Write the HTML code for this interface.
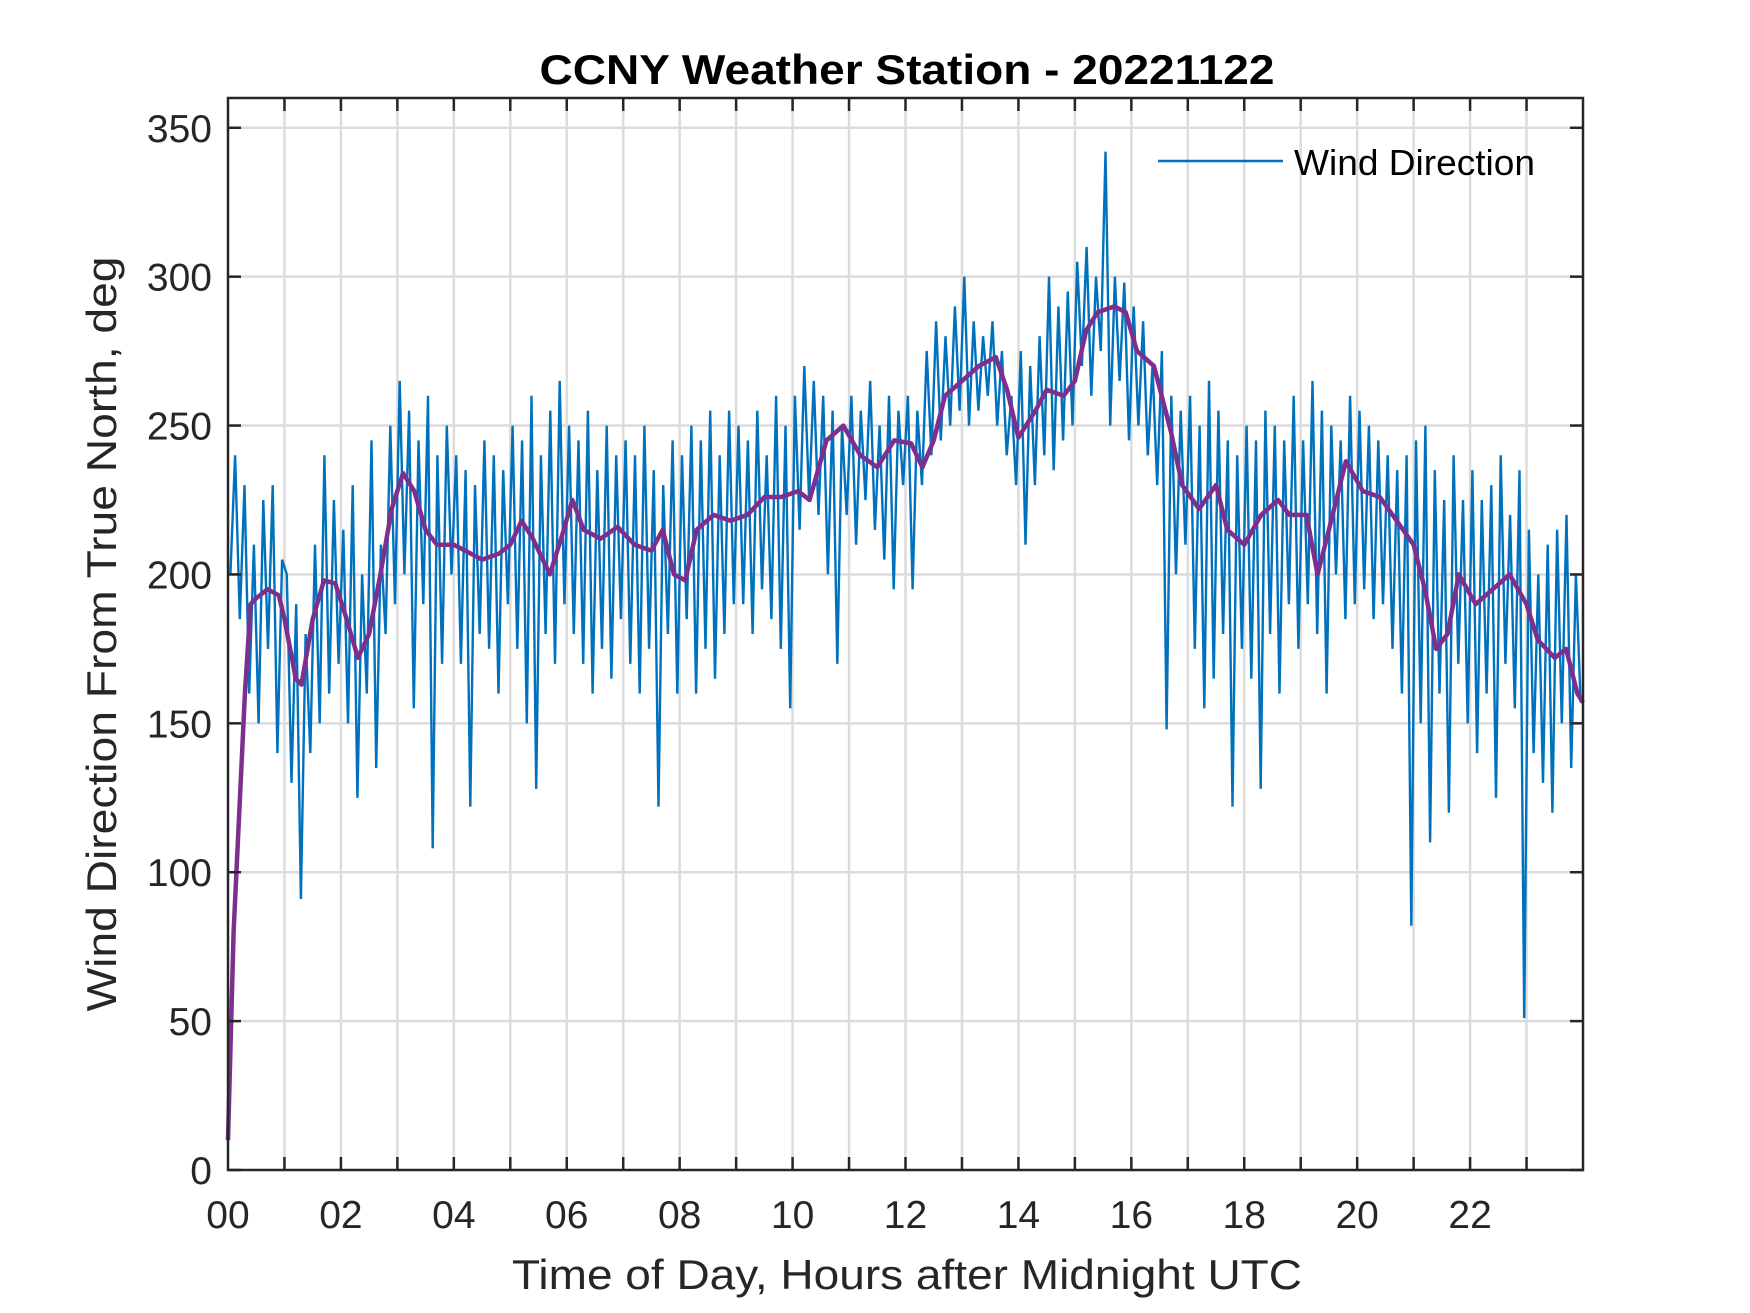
<!DOCTYPE html>
<html><head><meta charset="utf-8"><style>
html,body{margin:0;padding:0;background:#fff;}
svg{display:block;font-family:"Liberation Sans",Arial,sans-serif;}
</style></head><body>
<svg id="chart" width="1750" height="1313" viewBox="0 0 1750 1313">
<rect width="1750" height="1313" fill="#fff"/>
<text x="907" y="84" text-anchor="middle" font-size="42" font-weight="bold" fill="#000" textLength="735" lengthAdjust="spacingAndGlyphs">CCNY Weather Station - 20221122</text>
<text x="907" y="1289" text-anchor="middle" font-size="42" fill="#262626" textLength="790" lengthAdjust="spacingAndGlyphs">Time of Day, Hours after Midnight UTC</text>
<text transform="translate(116,634) rotate(-90)" text-anchor="middle" font-size="42" fill="#262626" textLength="755" lengthAdjust="spacingAndGlyphs">Wind Direction From True North, deg</text>
<g id="grid"></g>
<g id="plot"></g>
<g id="axes"></g>
<g>
<line x1="1158" y1="161" x2="1283" y2="161" stroke="#0072BD" stroke-width="2.5"/>
<text x="1294" y="175" font-size="36" fill="#000" textLength="241" lengthAdjust="spacingAndGlyphs">Wind Direction</text>
</g>
</svg>
<script>
// data
const rawValues = [
200,240,185,230,160,210,150,225,175,230,140,205,
200,130,190,91,180,140,210,150,240,160,225,170,
215,150,230,125,200,160,245,135,210,180,250,190,
265,200,255,155,245,190,260,108,240,170,250,200,
240,170,235,122,230,180,245,175,240,160,235,190,
250,175,245,150,260,128,240,180,255,170,265,190,
250,180,245,170,255,160,235,175,250,165,240,185,
245,170,240,160,250,175,235,122,230,180,245,160,
240,185,250,160,245,175,255,165,240,180,255,190,
250,190,245,180,255,195,240,185,260,175,250,155,
260,215,270,225,265,220,260,200,255,170,250,220,
260,210,255,225,265,215,250,205,260,195,255,230,
260,195,255,230,275,240,285,245,280,250,290,255,
300,250,285,255,280,260,285,250,275,240,260,230,
275,210,270,230,280,240,300,235,290,245,295,250,
305,270,310,260,300,275,342,250,300,265,298,245,
290,250,285,240,270,230,275,148,260,200,255,210,
260,175,250,155,265,165,255,180,245,122,240,175,
250,165,245,128,255,180,250,160,245,190,260,175,
245,190,265,180,255,160,250,200,245,185,260,190,
255,195,250,185,245,190,240,175,235,160,240,82,
245,150,250,110,235,160,225,120,240,170,225,150,
235,140,225,160,230,125,240,170,220,155,235,51,
215,140,200,130,210,120,215,150,220,135,200,157
];
const rawStepHours = 5/60;
const avgHours = [0,0.1,0.3,0.4,0.5,0.7,0.9,1.0,1.2,1.3,1.5,1.7,1.9,2.1,2.3,2.5,2.7,2.9,3.1,3.3,3.5,3.7,4.0,4.2,4.5,4.8,5.0,5.2,5.4,5.7,5.9,6.1,6.3,6.6,6.9,7.2,7.5,7.7,7.9,8.1,8.3,8.6,8.9,9.2,9.5,9.8,10.1,10.3,10.6,10.9,11.2,11.5,11.8,12.1,12.3,12.5,12.7,13.0,13.3,13.6,13.8,14.0,14.3,14.5,14.8,15.0,15.2,15.4,15.7,15.9,16.1,16.4,16.7,16.9,17.2,17.5,17.7,18.0,18.3,18.6,18.8,19.1,19.3,19.5,19.8,20.1,20.4,20.7,21.0,21.2,21.4,21.6,21.8,22.1,22.4,22.7,23.0,23.2,23.5,23.7,23.9,24];
const avgValues = [10,80,160,190,192,195,193,185,165,163,185,198,197,185,172,180,200,222,234,228,215,210,210,208,205,207,210,218,212,200,212,225,215,212,216,210,208,215,200,198,215,220,218,220,226,226,228,225,245,250,240,236,245,244,236,245,260,265,270,273,262,246,255,262,260,265,282,288,290,288,275,270,248,230,222,230,215,210,220,225,220,220,200,215,238,228,226,218,210,195,175,180,200,190,195,200,190,178,172,175,160,157];
const xTickLabels = ["00","02","04","06","08","10","12","14","16","18","20","22"];
const yTickValues = [0,50,100,150,200,250,300,350];

const L=228,R=1583,T=98,B=1170,XMAX=24,YMAX=360;
const xs=h=>L+(h/XMAX)*(R-L);
const ys=v=>B-(v/YMAX)*(B-T);
const NS="http://www.w3.org/2000/svg";
function mk(tag,attrs,parent){const e=document.createElementNS(NS,tag);for(const k in attrs)e.setAttribute(k,attrs[k]);parent.appendChild(e);return e;}
const grid=document.getElementById('grid'),plot=document.getElementById('plot'),axes=document.getElementById('axes');

for(let h=1;h<XMAX;h++){
  const g=mk('line',{x1:xs(h),x2:xs(h),y1:T,y2:B,stroke:'#dcdcdc','stroke-width':2.5},grid);
  
  
}
yTickValues.forEach(v=>{
  if(v===0)return;
  const g=mk('line',{x1:L,x2:R,y1:ys(v),y2:ys(v),stroke:'#dcdcdc','stroke-width':2.5},grid);
  
  
});

const rawPts=rawValues.map((v,i)=>xs(Math.min(XMAX,(i+0.5)*rawStepHours)).toFixed(1)+','+ys(v).toFixed(1)).join(' ');
const rawLine=mk('polyline',{points:rawPts,fill:'none',stroke:'#0072BD','stroke-width':2.4,'stroke-linejoin':'miter'},plot);


const avgPts=avgHours.map((h,i)=>xs(h).toFixed(1)+','+ys(avgValues[i]).toFixed(1)).join(' ');
const avgLine=mk('polyline',{points:avgPts,fill:'none',stroke:'#7E2F8E','stroke-width':4.5,'stroke-linejoin':'round'},plot);



const box=mk('rect',{x:L,y:T,width:R-L,height:B-T,fill:'none',stroke:'#262626','stroke-width':2.5},axes);


for(let h=1;h<XMAX;h++){
  const a=mk('line',{x1:xs(h),x2:xs(h),y1:B,y2:B-13,stroke:'#262626','stroke-width':2.5},axes);
  
  
  const b=mk('line',{x1:xs(h),x2:xs(h),y1:T,y2:T+13,stroke:'#262626','stroke-width':2.5},axes);
  
  
}
xTickLabels.forEach((s,i)=>{
  const t=mk('text',{x:xs(i*2),y:1228,'text-anchor':'middle','font-size':39,fill:'#262626'},axes);
  t.textContent=s;
  
  
});
yTickValues.forEach(v=>{
  const a=mk('line',{x1:L,x2:L+13,y1:ys(v),y2:ys(v),stroke:'#262626','stroke-width':2.5},axes);
  
  
  const b=mk('line',{x1:R,x2:R-13,y1:ys(v),y2:ys(v),stroke:'#262626','stroke-width':2.5},axes);
  
  
  const t=mk('text',{x:212,y:ys(v)+14,'text-anchor':'end','font-size':39,fill:'#262626'},axes);
  t.textContent=String(v);
  
  
});
</script>
</body></html>
